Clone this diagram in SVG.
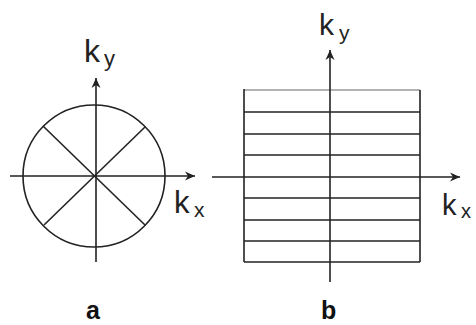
<svg xmlns="http://www.w3.org/2000/svg" width="476" height="325" viewBox="0 0 476 325">
<style>
.ln{stroke:#222;stroke-width:1.6;fill:none}
.lbl{font-family:"Liberation Sans",Arial,sans-serif;fill:#222}
.cap{font-family:"Liberation Sans",Arial,sans-serif;font-weight:bold;fill:#111}
</style>
<defs>
<marker id="ahb" viewBox="0 0 10 10" refX="10" refY="5" markerWidth="14" markerHeight="10" markerUnits="userSpaceOnUse" orient="auto">
<path d="M0,0.5 L10,5 L0,9.5 L3,5 Z" fill="#222"/>
</marker>
</defs>
<g id="diagram-a">
<circle class="ln" cx="94" cy="176" r="71"/>
<line class="ln" x1="43" y1="126" x2="145" y2="225"/>
<line class="ln" x1="145" y1="127" x2="44" y2="225"/>
<line class="ln" x1="10" y1="176" x2="195" y2="176" marker-end="url(#ahb)"/>
<line class="ln" x1="96" y1="262" x2="96" y2="78" marker-end="url(#ahb)"/>
<text class="lbl" x="84" y="62" font-size="32">k</text>
<text class="lbl" x="104" y="66" font-size="22">y</text>
<text class="lbl" x="174" y="213" font-size="31">k</text>
<text class="lbl" x="194" y="217" font-size="21">x</text>
<text class="cap" x="86" y="319" font-size="25">a</text>
</g>
<g id="diagram-b">
<line x1="244" y1="90" x2="420" y2="90" stroke="#999" stroke-width="1.4"/>
<line class="ln" x1="244" y1="89" x2="244" y2="262"/>
<line class="ln" x1="420" y1="90" x2="420" y2="262"/>
<line class="ln" x1="244" y1="112" x2="420" y2="112"/>
<line class="ln" x1="244" y1="134" x2="420" y2="134"/>
<line class="ln" x1="244" y1="155" x2="420" y2="155"/>
<line class="ln" x1="244" y1="198" x2="420" y2="198"/>
<line class="ln" x1="244" y1="220" x2="420" y2="220"/>
<line class="ln" x1="244" y1="241" x2="420" y2="241"/>
<line class="ln" x1="244" y1="262" x2="420" y2="262"/>
<line class="ln" x1="212" y1="177" x2="460" y2="177" marker-end="url(#ahb)"/>
<line class="ln" x1="330" y1="282" x2="330" y2="50" marker-end="url(#ahb)"/>
<text class="lbl" x="319" y="35" font-size="30">k</text>
<text class="lbl" x="339" y="40" font-size="21">y</text>
<text class="lbl" x="442" y="215" font-size="29">k</text>
<text class="lbl" x="461" y="218" font-size="20">x</text>
<text class="cap" x="321" y="319" font-size="25">b</text>
</g>
</svg>
